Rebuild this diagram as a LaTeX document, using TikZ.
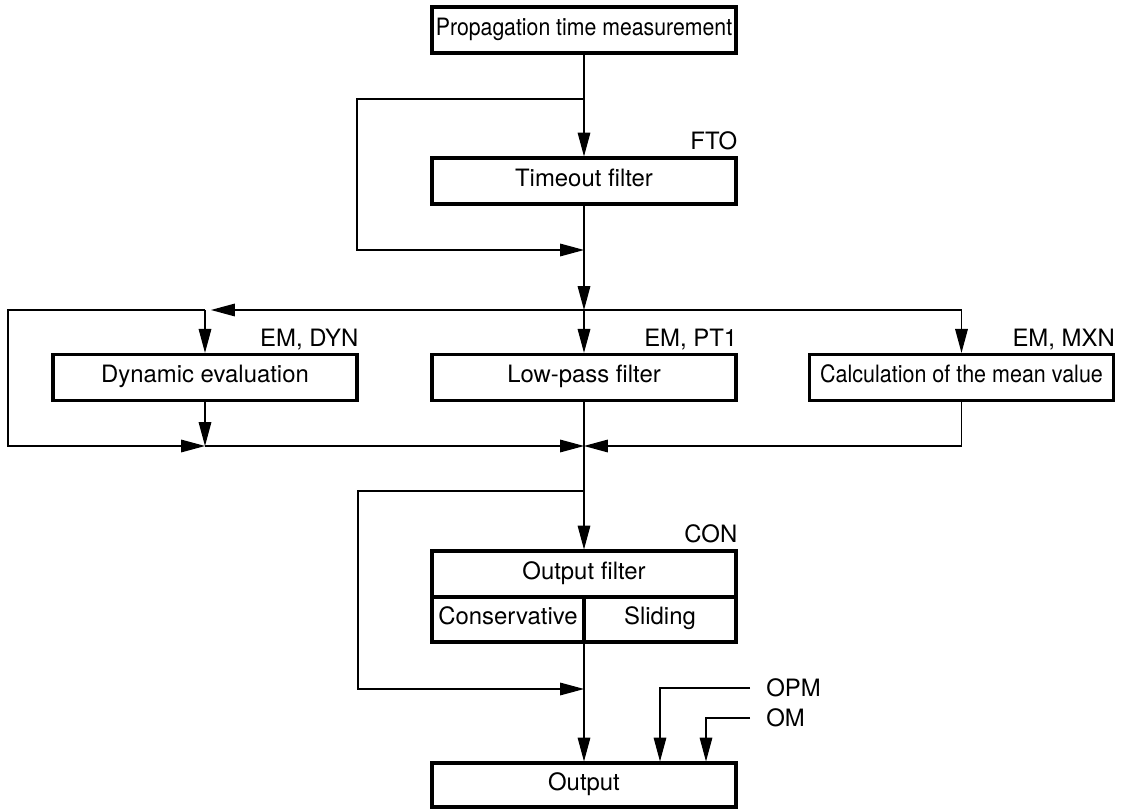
\documentclass[tikz,border=0pt]{standalone}
\usepackage{fontspec}
\setmainfont{TeX Gyre Heros}
\usetikzlibrary{arrows.meta}

\tikzset{
	box/.style = {draw, line width=2.2pt, minimum width=7.6cm, minimum height=1.15cm, inner sep=0pt, text height=0.72em, text depth=0pt},
	half/.style = {draw, line width=2.2pt, minimum width=3.8cm, minimum height=1.125cm, inner sep=0pt, text height=0.72em, text depth=0pt},
	tag/.style = {anchor=base east, inner sep=0pt, yshift=0.17cm},
	flow/.style = {line width=0.8pt, -{Triangle[length=17pt,width=9pt]}},
}

\begin{document}
\begin{tikzpicture}[font=\fontsize{17}{20}\selectfont]
	\useasboundingbox (0,0) rectangle (28.05,20.225);

	\node (ptm) at (14.6,19.475) [box] {\scalebox{0.89}[1]{Propagation time measurement}};
	\node (tof) at (14.6,15.7) [box] {Timeout filter};
	\node (dyn) at (5.125,10.79) [box] {Dynamic evaluation};
	\node (lpf) at (14.6,10.79) [box] {Low-pass filter};
	\node (cmv) at (24.0375,10.79) [box] {\scalebox{0.9}[1]{Calculation of the mean value}};
	\node (ofl) at (14.6,5.875) [box] {Output filter};
	\node (con) at (12.7,4.7375) [half] {Conservative};
	\node (sld) at (16.5,4.7375) [half] {Sliding};
	\node (out) at (14.6,0.6) [box, minimum height=1.1cm] {Output};

	\node (ftotag) at (tof.north east) [tag] {FTO};
	\node (dyntag) at (dyn.north east) [tag] {EM, DYN};
	\node (lpftag) at (lpf.north east) [tag] {EM, PT1};
	\node (cmvtag) at (cmv.north east) [tag] {EM, MXN};
	\node (contag) at (ofl.north east) [tag] {CON};
	\node (opmtag) at (19.15,3.025) [anchor=west, inner sep=0pt] {OPM};
	\node (omtag) at (19.15,2.275) [anchor=west, inner sep=0pt] {OM};

	\coordinate (split1) at (14.6,17.75);
	\coordinate (join1) at (14.6,13.975);
	\coordinate (dist) at (14.6,12.475);
	\coordinate (dyntop) at (5.125,12.475);
	\coordinate (dynbot) at (5.125,9.075);
	\coordinate (merge) at (14.6,9.075);
	\coordinate (split2) at (14.6,7.95);
	\coordinate (join2) at (14.6,3.0);
	\coordinate (opmend) at (18.75,3.025);
	\coordinate (omend) at (18.75,2.275);

	% timeout stage and its bypass
	\draw[flow] (ptm) -- (tof);
	\draw[flow] (split1) -- ++(-5.675,0) |- (join1);
	\draw[flow] (tof) -- (dist);

	% three evaluation paths
	\draw[flow] (dist) -- (lpf);
	\draw[flow, shorten >=0.15cm] (dist) -- (dyntop);
	\draw[flow] (dyntop) -- (dyn);
	\draw[flow] (dyntop) -- ++(-4.925,0) |- (dynbot);
	\draw[flow] (dist) -| (cmv);
	\draw[flow] (dyn) -- (dynbot);
	\draw[flow] (dynbot) -- (merge);
	\draw[flow] (cmv) |- (merge);
	\draw[flow] (lpf) -- (ofl);

	% output filter and its bypass
	\draw[flow] (split2) -- ++(-5.65,0) |- (join2);
	\draw[flow] (con.south -| out) -- (out);
	\draw[flow] (opmend) -| ([xshift=1.9cm]out.north);
	\draw[flow] (omend) -| ([xshift=3.05cm]out.north);
\end{tikzpicture}
\end{document}
